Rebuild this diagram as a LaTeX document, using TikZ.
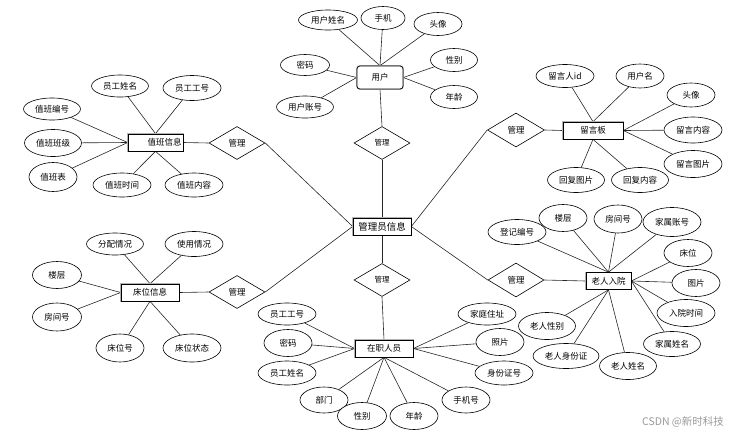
\documentclass[tikz,border=0pt]{standalone}
\usepackage{fontspec}
\newfontfamily\cjk{Noto Sans CJK SC}
\usetikzlibrary{shapes.geometric}
\pgfdeclarelayer{background}
\pgfsetlayers{background,main}
\begin{document}
\begin{tikzpicture}[x=1pt,y=-1pt,
 every node/.style={font=\cjk\fontsize{8.5}{10}\selectfont, inner sep=0pt},
 attr/.style={ellipse, draw, line width=0.6pt, fill=white},
 ent/.style={rectangle, draw, line width=0.7pt, fill=white, preaction={draw=black!30, line width=1.8pt}},
 rel/.style={diamond, draw, line width=0.6pt, fill=white, minimum width=56pt, minimum height=33pt},
 lk/.style={draw=black!85, line width=0.6pt}]
\useasboundingbox (0,0) rectangle (745,437);

% central entity and relations
\node[ent, minimum width=58pt, minimum height=17pt, font=\cjk\fontsize{9.5}{10}\selectfont] (admin) at (382,226.5) {管理员信息};
\node[rel, font=\cjk\fontsize{7.5}{9}\selectfont] (d1) at (382,143) {管理};
\node[rel, font=\cjk\fontsize{7.5}{9}\selectfont] (d2) at (382,280) {管理};
\node[rel] (d3) at (237,143) {管理};
\node[rel] (d4) at (237,292) {管理};
\node[rel, minimum width=57pt, minimum height=34pt] (d5) at (516,130) {管理};
\node[rel, minimum height=34pt] (d6) at (516,280) {管理};

% user
\node[ent, rounded corners=3pt, minimum width=46pt, minimum height=23pt] (user) at (380,77.5) {用户};
\node[attr, minimum width=59pt, minimum height=20pt] (u1) at (328,20) {用户姓名};
\node[attr, minimum width=44pt, minimum height=23pt] (u2) at (383,18) {手机};
\node[attr, minimum width=48pt, minimum height=23pt] (u3) at (438,24) {头像};
\node[attr, minimum width=49pt, minimum height=21pt] (u4) at (305,65) {密码};
\node[attr, minimum width=47pt, minimum height=23pt] (u5) at (454,60) {性别};
\node[attr, minimum width=57pt, minimum height=22pt] (u6) at (305,107) {用户账号};
\node[attr, minimum width=47pt, minimum height=23pt] (u7) at (454,97) {年龄};

% duty
\node[ent, minimum width=55pt, minimum height=17pt] (duty) at (155.5,142.5) {\hspace*{18pt}值班信息};
\node[attr, minimum width=57pt, minimum height=22pt] (v1) at (120,86) {员工姓名};
\node[attr, minimum width=58pt, minimum height=25pt] (v2) at (192,88) {员工工号};
\node[attr, minimum width=57pt, minimum height=22pt] (v3) at (52,109) {值班编号};
\node[attr, minimum width=57pt, minimum height=27pt] (v4) at (53,143) {值班班级};
\node[attr, minimum width=48pt, minimum height=29pt] (v5) at (53,177) {值班表};
\node[attr, minimum width=58pt, minimum height=24pt] (v6) at (122,185) {值班时间};
\node[attr, minimum width=58pt, minimum height=24pt] (v7) at (194,185) {值班内容};

% bed
\node[ent, minimum width=58pt, minimum height=17pt] (bed) at (150,292.5) {床位信息};
\node[attr, minimum width=57pt, minimum height=22pt] (b1) at (115,244) {分配情况};
\node[attr, minimum width=58pt, minimum height=25pt] (b2) at (194,244) {使用情况};
\node[attr, minimum width=49pt, minimum height=27pt] (b3) at (57,275) {楼层};
\node[attr, minimum width=49pt, minimum height=28pt] (b4) at (57,317) {房间号};
\node[attr, minimum width=48pt, minimum height=28pt] (b5) at (120,348) {床位号};
\node[attr, minimum width=58pt, minimum height=28pt] (b6) at (192,348) {床位状态};

% message board
\node[ent, minimum width=60pt, minimum height=17pt] (msg) at (593,130.5) {留言板};
\node[attr, minimum width=58pt, minimum height=23pt] (m1) at (565,76) {留言人id};
\node[attr, minimum width=48pt, minimum height=24pt] (m2) at (640,76) {用户名};
\node[attr, minimum width=48pt, minimum height=24pt] (m3) at (691,95) {头像};
\node[attr, minimum width=58pt, minimum height=26pt] (m4) at (693,130) {留言内容};
\node[attr, minimum width=58pt, minimum height=27pt] (m5) at (693,164) {留言图片};
\node[attr, minimum width=57pt, minimum height=25pt] (m6) at (576,180) {回复图片};
\node[attr, minimum width=57pt, minimum height=25pt] (m7) at (640,180) {回复内容};

% elder admission
\node[ent, minimum width=45pt, minimum height=17pt] (elder) at (608.5,281) {老人入院};
\node[attr, minimum width=58pt, minimum height=25pt] (e1) at (517,232) {登记编号};
\node[attr, minimum width=48pt, minimum height=27pt] (e2) at (563,218) {楼层};
\node[attr, minimum width=48pt, minimum height=28pt] (e3) at (618,219) {房间号};
\node[attr, minimum width=58pt, minimum height=29pt] (e4) at (672,222) {家属账号};
\node[attr, minimum width=48pt, minimum height=27pt] (e5) at (688,253) {床位};
\node[attr, minimum width=48pt, minimum height=27pt] (e6) at (696,283) {图片};
\node[attr, minimum width=58pt, minimum height=27pt] (e7) at (686,313) {入院时间};
\node[attr, minimum width=57pt, minimum height=25pt] (e8) at (672,344) {家属姓名};
\node[attr, minimum width=57pt, minimum height=27pt] (e9) at (628,366) {老人姓名};
\node[attr, minimum width=66pt, minimum height=25pt] (e10) at (566,356) {老人身份证};
\node[attr, minimum width=57pt, minimum height=27pt] (e11) at (547,326) {老人性别};

% staff
\node[ent, minimum width=58pt, minimum height=17pt] (staff) at (384,348.5) {在职人员};
\node[attr, minimum width=58pt, minimum height=22pt] (s1) at (287,314) {员工工号};
\node[attr, minimum width=48pt, minimum height=27pt] (s2) at (288,343) {密码};
\node[attr, minimum width=58pt, minimum height=24pt] (s3) at (287,373) {员工姓名};
\node[attr, minimum width=48pt, minimum height=26pt] (s4) at (324,400) {部门};
\node[attr, minimum width=49pt, minimum height=27pt] (s5) at (362,416) {性别};
\node[attr, minimum width=48pt, minimum height=27pt] (s6) at (414,416) {年龄};
\node[attr, minimum width=48pt, minimum height=26pt] (s7) at (466,400) {手机号};
\node[attr, minimum width=58pt, minimum height=22pt] (s8) at (487,314) {家庭住址};
\node[attr, minimum width=48pt, minimum height=27pt] (s9) at (500,342) {照片};
\node[attr, minimum width=58pt, minimum height=24pt] (s10) at (504,373) {身份证号};

% watermark
\node[font=\cjk\fontsize{10.5}{12}\selectfont, text=black!40] (wm) at (683,422) {CSDN @新时科技};

\begin{pgfonlayer}{background}
% central
\draw[lk] (user.south) -- (d1.north);
\draw[lk] (d1.south) -- (admin.north);
\draw[lk] (admin.south) -- (d2.north);
\draw[lk] (d2.south) -- (staff.north);
\draw[lk] (d3.east) -- (admin.west);
\draw[lk] (d4.east) -- (admin.west);
\draw[lk] (admin.east) -- (d5.west);
\draw[lk] (admin.east) -- (d6.west);
\draw[lk] (d3.west) -- (duty.east);
\draw[lk] (d4.west) -- (bed.east);
\draw[lk] (d5.east) -- (msg.west);
\draw[lk] (d6.east) -- (elder.west);
% user
\foreach \n in {u1,u2,u3} \draw[lk] (\n) -- (user.north);
\foreach \n in {u4,u6} \draw[lk] (\n) -- (user.west);
\foreach \n in {u5,u7} \draw[lk] (\n) -- (user.east);
% duty
\foreach \n in {v1,v2} \draw[lk] (\n) -- (duty.north);
\foreach \n in {v3,v4,v5} \draw[lk] (\n) -- (duty.west);
\foreach \n in {v6,v7} \draw[lk] (\n) -- (duty.south);
% bed
\foreach \n in {b1,b2} \draw[lk] (\n) -- (bed.north);
\foreach \n in {b3,b4} \draw[lk] (\n) -- (bed.west);
\foreach \n in {b5,b6} \draw[lk] (\n) -- (bed.south);
% message
\foreach \n in {m1,m2} \draw[lk] (\n) -- (msg.north);
\foreach \n in {m3,m4,m5} \draw[lk] (\n) -- (msg.east);
\foreach \n in {m6,m7} \draw[lk] (\n) -- (msg.south);
% elder
\foreach \n in {e1,e2,e3,e4} \draw[lk] (\n) -- (elder.north);
\foreach \n in {e5,e6,e7,e8} \draw[lk] (\n) -- (elder.east);
\foreach \n in {e9,e10,e11} \draw[lk] (\n) -- (elder.south);
% staff
\foreach \n in {s1,s2,s3} \draw[lk] (\n) -- (staff.west);
\foreach \n in {s8,s9,s10} \draw[lk] (\n) -- (staff.east);
\foreach \n in {s4,s5,s6,s7} \draw[lk] (\n) -- (staff.south);
\end{pgfonlayer}
\end{tikzpicture}
\end{document}
